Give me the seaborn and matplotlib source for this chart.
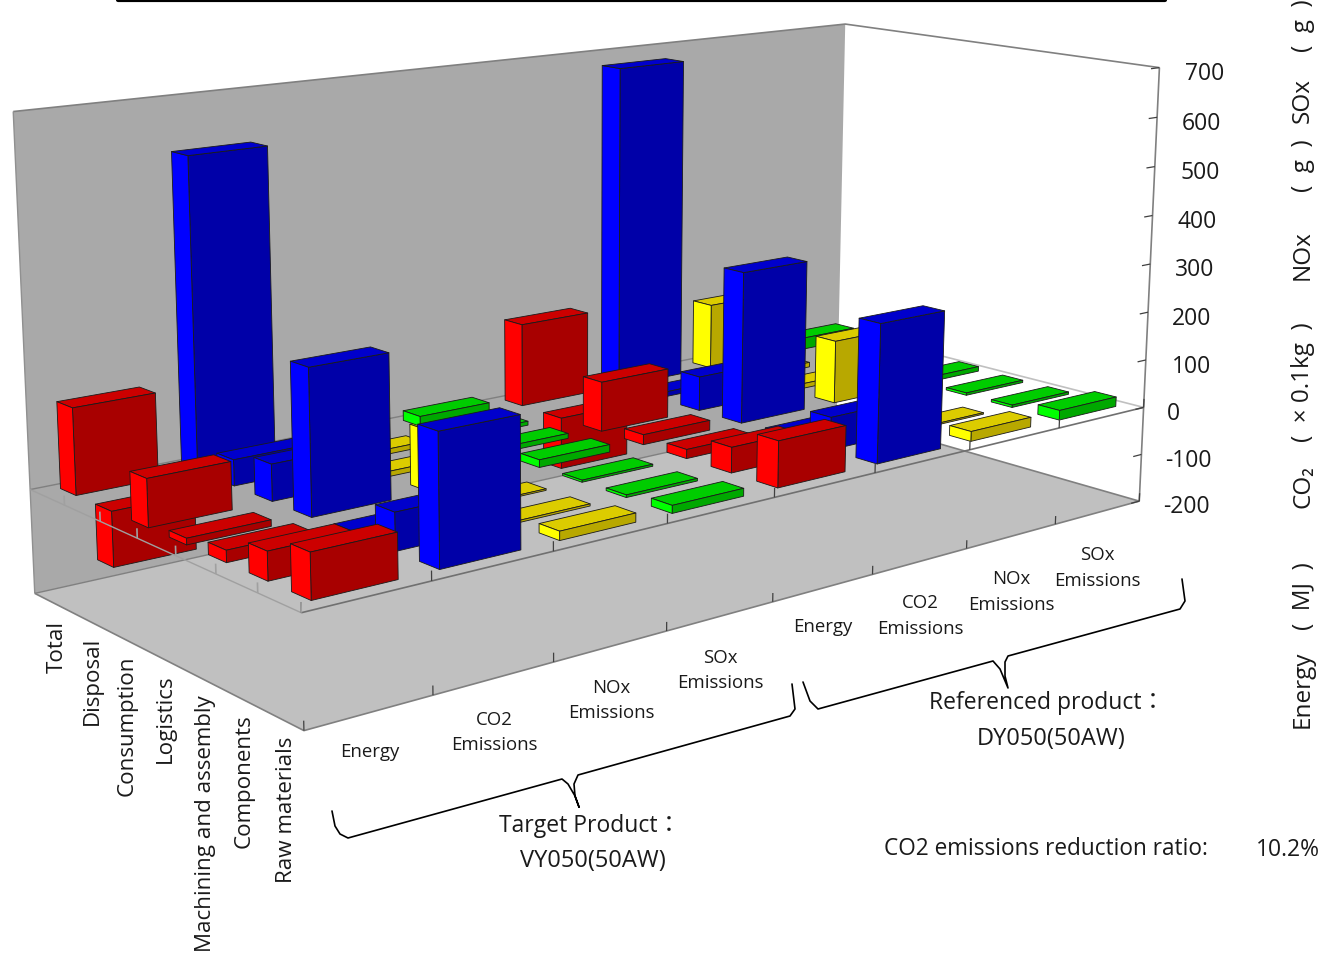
import pandas as pd
import seaborn as sns
import matplotlib
matplotlib.use("Agg")
import matplotlib.pyplot as plt
from matplotlib.lines import Line2D
from mpl_toolkits.mplot3d.art3d import Poly3DCollection

W, H = 1323, 954

stages = ["Raw materials", "Components", "Machining and assembly", "Logistics", "Consumption", "Disposal", "Total"]
metric_labels = ["Energy", "CO2\nEmissions", "NOx\nEmissions", "SOx\nEmissions"]
metrics = ["Energy", "CO2", "NOx", "SOx"]
products = ["Target", "Referenced"]
ztick_values = [700, 600, 500, 400, 300, 200, 100, 0, -100, -200]

# front row first (Raw materials) to back row (Total)
energy_target = [82, 52, 22, 12, 90, -105, 165]
co2_target = [240, 70, 5, 275, 70, 50, 600]
nox_target = [17, 4, 3, 116, 10, 10, 140]
sox_target = [15, 5, 4, 15, 10, 8, 20]
energy_ref = [90, 50, 18, 20, 100, -105, 170]
co2_ref = [274, 65, 5, 308, 70, 10, 672]
nox_ref = [20, 3, 3, 130, 10, 10, 138]
sox_ref = [20, 5, 5, 10, 10, 5, 25]

rows = []
series = [energy_target, co2_target, nox_target, sox_target, energy_ref, co2_ref, nox_ref, sox_ref]
for col, vals in enumerate(series):
    for row, v in enumerate(vals):
        rows.append({"col": col, "row": row, "value": v, "metric": metrics[col % 4], "product": products[col // 4]})
df = pd.DataFrame(rows)

side_colors = dict(zip(metrics, sns.color_palette(["#ff0000", "#0000ff", "#ffff00", "#00ff00"], 4)))
top_colors = dict(zip(metrics, sns.color_palette(["#cc0000", "#0000cc", "#dccc00", "#00cc00"], 4)))
front_colors = dict(zip(metrics, sns.color_palette(["#a80000", "#0000a8", "#b8a800", "#00a800"], 4)))

sns.set_style("white")
plt.rcParams["font.family"] = ["Open Sans", "Noto Sans CJK JP", "DejaVu Sans"]

fig = plt.figure(figsize=(W / 100, H / 100), dpi=100)
ax = fig.add_subplot(projection="3d", computed_zorder=False)
ax.set_xlim(0, 8)
ax.set_ylim(0, 7)
ax.set_zlim(-200, 700)
ax.set_axis_off()
ax.view_init(elev=12.974, azim=-129.699, roll=-0.204)
ax.set_proj_type("persp", focal_length=0.4308)
ax.set_box_aspect((2.2849, 0.9969, 1.0))
ax.set_position([-8.97 / W, 5.34 / H, 1220.82 / W, 1220.82 / H])
ax.patch.set_alpha(0)


def px(x, y):
    return x / W, 1 - y / H


def poly(verts, color, z):
    ax.add_collection3d(Poly3DCollection([verts], facecolors=[color], edgecolors="none", linewidths=0, zorder=z))


def seg(x, y, z, color, lw, zo):
    ax.plot(x, y, z, color=color, lw=lw, zorder=zo, solid_capstyle="butt")


# walls and floor
poly([(0, 7, -200), (8, 7, -200), (8, 7, 700), (0, 7, 700)], "#a9a9a9", 1)
poly([(0, 0, -200), (8, 0, -200), (8, 7, -200), (0, 7, -200)], "#c0c0c0", 2)
seg([0, 8, 8], [7, 7, 0], [700, 700, 700], "#808080", 1.2, 3)
seg([8, 8], [0, 0], [700, -200], "#808080", 1.2, 3)
seg([0, 0, 8, 8], [7, 0, 0, 7], [-200, -200, -200, -200], "#808080", 1.2, 3)
seg([0, 0], [7, 7], [-200, 700], "#909090", 1.0, 3)
seg([0, 8], [7, 7], [-200, -200], "#808080", 1.0, 3)

# plane at zero, back edges go behind the bars
seg([0, 8], [7, 7], [0, 0], "#808080", 1.0, 3)
seg([8, 8], [7, 0], [0, 0], "#c0c0c0", 1.2, 3)

BAR_X, BAR_W = 0.18, 0.67
BAR_Y, BAR_D = 0.32, 0.45
for _, b in df.iterrows():
    x0, x1 = b["col"] + BAR_X, b["col"] + BAR_X + BAR_W
    y0, y1 = b["row"] + BAR_Y, b["row"] + BAR_Y + BAR_D
    zlo, zhi = min(0, b["value"]), max(0, b["value"])
    order = 10 + (6 - b["row"]) * 10 + (7 - b["col"])
    # the original draws this green bar over the yellow logistics one
    if b["col"] == 3 and b["row"] == 6:
        order = 45.5
    m = b["metric"]
    faces = [[(x0, y0, zlo), (x0, y1, zlo), (x0, y1, zhi), (x0, y0, zhi)],
             [(x0, y0, zlo), (x1, y0, zlo), (x1, y0, zhi), (x0, y0, zhi)],
             [(x0, y0, zhi), (x1, y0, zhi), (x1, y1, zhi), (x0, y1, zhi)]]
    ax.add_collection3d(Poly3DCollection(faces, facecolors=[side_colors[m], front_colors[m], top_colors[m]],
                                         edgecolors="#1a1a1a", linewidths=0.6, zorder=order))

# front edges and ticks stay in front of the bars
seg([0, 8], [0, 0], [0, 0], "#707070", 1.2, 200)
seg([0, 0], [0, 7], [0, 0], "#a0a0a0", 1.0, 200)
for k in range(9):
    seg([k, k], [0, 0], [0, 18], "#404040", 0.9, 200)
    seg([k, k], [0, 0], [-200, -183], "#404040", 0.9, 200)
for j in range(7):
    seg([0, 0], [j, j], [0, 18], "#a0a0a0", 1.2, 200)
for z in ztick_values:
    seg([8, 7.9], [0, 0], [z, z], "#404040", 0.9, 200)

# axis text
stage_px = [287, 244, 205, 165, 127, 92, 57]
stage_top = [737, 714, 695, 674, 656, 637, 621]
for s, x, y in zip(stages, stage_px, stage_top):
    fig.text(*px(x, y), s, rotation=90, ha="center", va="top", fontsize=16.1, color="#1a1a1a")

metric_px = [(370, 752), (494, 733), (611, 701), (720, 671), (823, 627), (920, 616), (1011, 592), (1097, 568)]
for i, (x, y) in enumerate(metric_px):
    fig.text(*px(x, y), metric_labels[i % 4], ha="center", va="center", fontsize=13.4, color="#1a1a1a", linespacing=1.5)

ztick_left = [1185, 1182, 1180, 1177, 1175, 1172, 1172, 1167, 1165, 1163]
ztick_y = [74, 124, 173, 222, 270, 319, 367, 414, 461, 507]
for v, x, y in zip(ztick_values, ztick_left, ztick_y):
    fig.text(*px(x, y), str(v), ha="left", va="center", fontsize=16.5, color="#1a1a1a")

# unit labels on the right
for txt, y in [("Energy", 728), ("(  MJ  )", 630), ("CO₂", 508), ("(  × 0.1kg  )", 442), ("NOx", 280),
               ("(  g  )", 192), ("SOx", 123), ("(  g  )", 52)]:
    fig.text(*px(1303, y), txt, rotation=90, ha="center", va="bottom", fontsize=17.5, color="#1a1a1a")

# annotations
for txt, x, y, fs in [("Target Product：", 590, 826, 16.5), ("VY050(50AW)", 593, 861, 17),
                      ("Referenced product：", 1047, 703, 16.5), ("DY050(50AW)", 1051, 739, 17),
                      ("CO2 emissions reduction ratio:", 1046, 849, 16.3), ("10.2%", 1288, 850, 16.5)]:
    fig.text(*px(x, y), txt, ha="center", va="center", fontsize=fs, color="#1a1a1a")

brace_target = [(332, 812), (335, 827), (340, 835), (348, 839), (562, 780), (568, 785), (575, 797), (579, 808),
                (575, 797), (574, 785), (578, 776), (790, 717), (795, 710), (792, 685)]
brace_ref = [(803, 683), (810, 702), (818, 710), (993, 662), (1000, 670), (1008, 689), (1005, 677), (1005, 663),
             (1008, 657), (1180, 610), (1185, 602), (1182, 580)]
for br in [brace_target, brace_ref]:
    xs = [p[0] / W for p in br]
    ys = [1 - p[1] / H for p in br]
    fig.add_artist(Line2D(xs, ys, color="black", lw=1.2, solid_joinstyle="round"))

fig.add_artist(Line2D([118 / W, 1165 / W], [1 - 0.5 / H, 1 - 0.5 / H], color="black", lw=3))

fig.savefig("out.png", dpi=100)
